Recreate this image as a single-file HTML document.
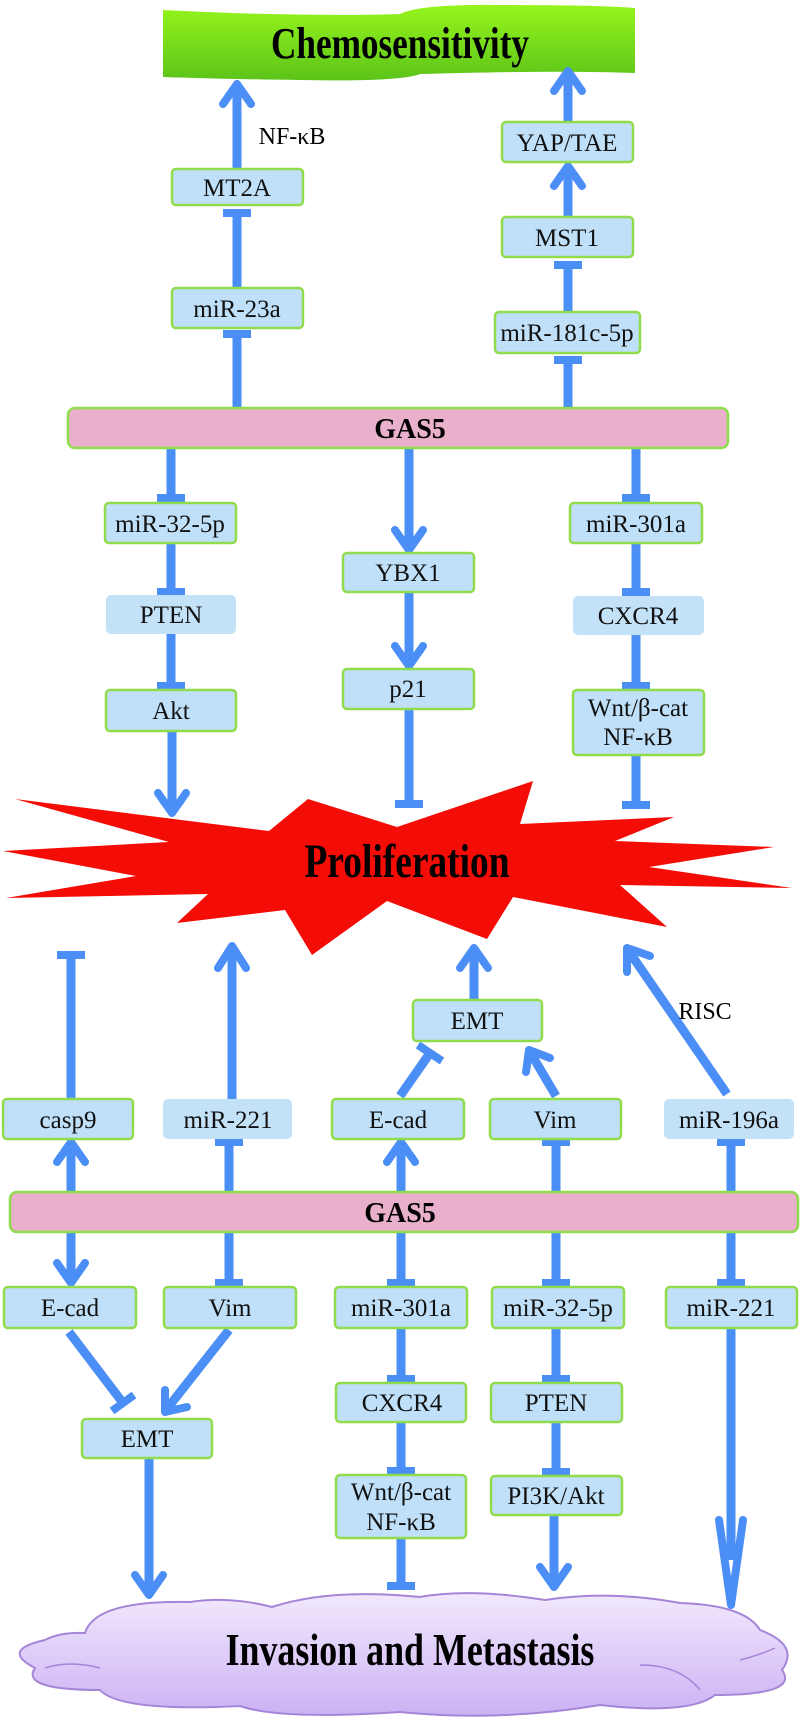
<!DOCTYPE html>
<html><head><meta charset="utf-8"><style>
html,body{margin:0;padding:0;background:#fff;}
svg{display:block;}
text{font-family:"Liberation Serif",serif;}
</style></head><body>
<svg width="800" height="1720" viewBox="0 0 800 1720" xmlns="http://www.w3.org/2000/svg">
<defs>
<linearGradient id="gg" x1="0" y1="0" x2="0" y2="1"><stop offset="0" stop-color="#96f51c"/><stop offset="1" stop-color="#5cc41a"/></linearGradient>
<linearGradient id="cg" x1="0" y1="0" x2="0" y2="1"><stop offset="0" stop-color="#f2e9fd"/><stop offset="1" stop-color="#cbb2f4"/></linearGradient>
</defs>
<path d="M163,10 Q300,17 400,14 Q420,4 500,5 Q600,5 635,8 L635,73 Q560,70 420,74 Q400,82 300,80 Q220,79 163,77 Z" fill="url(#gg)"/>
<text x="400" y="58" font-size="44" font-weight="bold" text-anchor="middle" transform="translate(400,0) scale(0.8,1) translate(-400,0)">Chemosensitivity</text>

<polygon fill="#f40c06" points="15,799 269,831 308,799 397,827 533,781 520,824 674,817 615,841 774,847 649,867 792,888 620,885 667,927 513,897 487,939 387,901 312,955 285,910 177,923 208,894 6,898 136,876 3,851 169,842"/>
<text x="407" y="877" font-size="48" font-weight="bold" text-anchor="middle" transform="translate(407,0) scale(0.78,1) translate(-407,0)">Proliferation</text>

<path d="M85,1633 Q95,1600 190,1602 Q230,1596 272,1607 Q330,1588 420,1597 Q470,1588 545,1600 Q610,1590 680,1603 Q745,1605 760,1630 Q800,1645 782,1670 Q800,1695 715,1695 Q690,1715 600,1705 Q500,1722 400,1712 Q280,1720 240,1706 Q120,1712 100,1690 Q20,1690 35,1668 Q0,1650 45,1640 Q60,1632 85,1633 Z" fill="url(#cg)" stroke="#a585d8" stroke-width="2"/>
<g fill="none" stroke="#a585d8" stroke-width="1.5">
<path d="M45,1668 Q70,1660 100,1668"/>
<path d="M640,1665 Q680,1665 700,1690"/>
<path d="M740,1660 Q760,1655 775,1648"/>
</g>
<text x="410" y="1665" font-size="46" font-weight="bold" text-anchor="middle" transform="translate(410,0) scale(0.78,1) translate(-410,0)">Invasion and Metastasis</text>

<g stroke="#4b8ef5" stroke-width="9" fill="none" stroke-linecap="butt">
<line x1="237" y1="169" x2="237" y2="84"/>
<line x1="237" y1="288" x2="237" y2="213"/>
<line x1="237" y1="408" x2="237" y2="334"/>
<line x1="568" y1="122" x2="568" y2="71"/>
<line x1="568" y1="217" x2="568" y2="166"/>
<line x1="568" y1="312" x2="568" y2="265"/>
<line x1="568" y1="408" x2="568" y2="360"/>
<line x1="171" y1="448" x2="171" y2="498"/>
<line x1="409" y1="448" x2="409" y2="548"/>
<line x1="636" y1="448" x2="636" y2="498"/>
<line x1="171" y1="543" x2="171" y2="592"/>
<line x1="636" y1="543" x2="636" y2="592"/>
<line x1="171" y1="634" x2="171" y2="686"/>
<line x1="636" y1="635" x2="636" y2="686"/>
<line x1="172" y1="731" x2="172" y2="811"/>
<line x1="409" y1="592" x2="409" y2="664"/>
<line x1="409" y1="709" x2="409" y2="803"/>
<line x1="636" y1="755" x2="636" y2="804"/>
<line x1="71" y1="1099" x2="71" y2="955"/>
<line x1="232" y1="1099" x2="232" y2="948"/>
<line x1="474" y1="1000" x2="474" y2="950"/>
<line x1="400" y1="1096" x2="430" y2="1053"/>
<line x1="556" y1="1096" x2="530" y2="1052"/>
<line x1="727" y1="1094" x2="628" y2="950"/>
<line x1="71" y1="1192" x2="71" y2="1144"/>
<line x1="229" y1="1192" x2="229" y2="1142"/>
<line x1="401" y1="1192" x2="401" y2="1144"/>
<line x1="556" y1="1192" x2="556" y2="1142"/>
<line x1="731" y1="1192" x2="731" y2="1142"/>
<line x1="71" y1="1232" x2="71" y2="1281"/>
<line x1="229" y1="1232" x2="229" y2="1283"/>
<line x1="401" y1="1232" x2="401" y2="1283"/>
<line x1="556" y1="1232" x2="556" y2="1283"/>
<line x1="731" y1="1232" x2="731" y2="1283"/>
<line x1="69" y1="1332" x2="123" y2="1403"/>
<line x1="229" y1="1330" x2="166" y2="1410"/>
<line x1="149" y1="1458" x2="149" y2="1593"/>
<line x1="401" y1="1328" x2="401" y2="1379"/>
<line x1="401" y1="1422" x2="401" y2="1471"/>
<line x1="401" y1="1538" x2="401" y2="1586"/>
<line x1="556" y1="1328" x2="556" y2="1379"/>
<line x1="556" y1="1422" x2="556" y2="1472"/>
<line x1="554" y1="1515" x2="554" y2="1583"/>
<line x1="731" y1="1328" x2="731" y2="1560"/>
</g>
<g stroke="#4b8ef5" stroke-width="8" fill="none" stroke-linecap="round" stroke-linejoin="round">
<polyline points="223,104 237,84 251,104"/>
<polyline points="554,91 568,71 582,91"/>
<polyline points="554,186 568,166 582,186"/>
<polyline points="395,530 409,550 423,530"/>
<polyline points="158,793 172,813 186,793"/>
<polyline points="395,646 409,666 423,646"/>
<polyline points="218,968 232,946 246,968"/>
<polyline points="460,968 474,948 488,968"/>
<polyline points="550,1058 529,1050 526,1072"/>
<polyline points="650,956 627,948 627,972"/>
<polyline points="57,1162 71,1142 85,1162"/>
<polyline points="387,1162 401,1142 415,1162"/>
<polyline points="57,1263 71,1283 85,1263"/>
<polyline points="187,1407 165,1412 165,1390"/>
<polyline points="135,1575 149,1595 163,1575"/>
<polyline points="540,1567 554,1587 568,1567"/>
<polyline points="719,1520 731,1605 743,1520"/>
</g>
<g fill="#4b8ef5">
<rect x="223" y="209" width="28" height="8"/>
<rect x="223" y="330" width="28" height="8"/>
<rect x="554" y="261" width="28" height="8"/>
<rect x="554" y="356" width="28" height="8"/>
<rect x="157" y="494" width="28" height="8"/>
<rect x="622" y="494" width="28" height="8"/>
<rect x="157" y="588" width="28" height="8"/>
<rect x="622" y="588" width="28" height="8"/>
<rect x="157" y="682" width="28" height="8"/>
<rect x="622" y="682" width="28" height="8"/>
<rect x="395" y="800" width="28" height="8"/>
<rect x="622" y="801" width="28" height="8"/>
<rect x="57" y="951" width="28" height="8"/>
<rect x="215" y="1138" width="28" height="8"/>
<rect x="542" y="1138" width="28" height="8"/>
<rect x="717" y="1138" width="28" height="8"/>
<rect x="215" y="1279" width="28" height="8"/>
<rect x="387" y="1279" width="28" height="8"/>
<rect x="542" y="1279" width="28" height="8"/>
<rect x="717" y="1279" width="28" height="8"/>
<rect x="387" y="1375" width="28" height="8"/>
<rect x="387" y="1467" width="28" height="8"/>
<rect x="387" y="1582" width="28" height="8"/>
<rect x="542" y="1375" width="28" height="8"/>
<rect x="542" y="1468" width="28" height="8"/>
</g>
<g stroke="#4b8ef5" stroke-width="8">
<line x1="418" y1="1045" x2="442" y2="1061"/>
<line x1="134" y1="1395" x2="112" y2="1411"/>
</g>

<g fill="#bfe0f8" stroke="#90dc4c" stroke-width="2.5">
<rect x="172" y="169" width="131" height="36" rx="4"/>
<rect x="172" y="288" width="131" height="40" rx="4"/>
<rect x="502" y="122" width="131" height="40" rx="4"/>
<rect x="502" y="217" width="131" height="40" rx="4"/>
<rect x="495" y="312" width="145" height="41" rx="4"/>
<rect x="105" y="503" width="131" height="40" rx="4"/>
<rect x="343" y="553" width="131" height="39" rx="4"/>
<rect x="570" y="503" width="132" height="40" rx="4"/>
<rect x="106" y="690" width="130" height="41" rx="4"/>
<rect x="343" y="669" width="131" height="40" rx="4"/>
<rect x="573" y="690" width="131" height="65" rx="4"/>
<rect x="3" y="1099" width="130" height="40" rx="4"/>
<rect x="413" y="1000" width="129" height="41" rx="4"/>
<rect x="332" y="1099" width="132" height="40" rx="4"/>
<rect x="490" y="1099" width="131" height="40" rx="4"/>
<rect x="4" y="1287" width="132" height="41" rx="4"/>
<rect x="164" y="1287" width="132" height="41" rx="4"/>
<rect x="335" y="1287" width="132" height="41" rx="4"/>
<rect x="492" y="1287" width="132" height="41" rx="4"/>
<rect x="666" y="1287" width="131" height="41" rx="4"/>
<rect x="82" y="1419" width="130" height="39" rx="4"/>
<rect x="336" y="1383" width="130" height="39" rx="4"/>
<rect x="491" y="1383" width="131" height="39" rx="4"/>
<rect x="336" y="1475" width="130" height="63" rx="4"/>
<rect x="491" y="1476" width="131" height="39" rx="4"/>
</g>
<g fill="#c3e2f8">
<rect x="106" y="595" width="130" height="39" rx="5"/>
<rect x="573" y="596" width="131" height="39" rx="5"/>
<rect x="163" y="1099" width="129" height="40" rx="5"/>
<rect x="664" y="1099" width="130" height="40" rx="5"/>
</g>
<g fill="#e8b0cb" stroke="#90dc4c" stroke-width="2.5">
<rect x="68" y="408" width="660" height="40" rx="7"/>
<rect x="10" y="1192" width="788" height="40" rx="7"/>
</g>

<g font-size="25" text-anchor="middle" fill="#111">
<text x="237" y="196">MT2A</text>
<text x="237" y="317">miR-23a</text>
<text x="567" y="151">YAP/TAE</text>
<text x="567" y="246">MST1</text>
<text x="567" y="341">miR-181c-5p</text>
<text x="170" y="532">miR-32-5p</text>
<text x="408" y="581">YBX1</text>
<text x="636" y="532">miR-301a</text>
<text x="171" y="623">PTEN</text>
<text x="638" y="624">CXCR4</text>
<text x="171" y="719">Akt</text>
<text x="408" y="697">p21</text>
<text x="638" y="716">Wnt/β-cat</text>
<text x="638" y="745">NF-κB</text>
<text x="68" y="1128">casp9</text>
<text x="228" y="1128">miR-221</text>
<text x="477" y="1029">EMT</text>
<text x="398" y="1128">E-cad</text>
<text x="555" y="1128">Vim</text>
<text x="729" y="1128">miR-196a</text>
<text x="70" y="1316">E-cad</text>
<text x="230" y="1316">Vim</text>
<text x="401" y="1316">miR-301a</text>
<text x="558" y="1316">miR-32-5p</text>
<text x="731" y="1316">miR-221</text>
<text x="147" y="1447">EMT</text>
<text x="402" y="1411">CXCR4</text>
<text x="556" y="1411">PTEN</text>
<text x="401" y="1500">Wnt/β-cat</text>
<text x="401" y="1530">NF-κB</text>
<text x="556" y="1504">PI3K/Akt</text>
</g>
<text x="292" y="144" font-size="24" text-anchor="middle">NF-κB</text>
<text x="705" y="1019" font-size="24" text-anchor="middle">RISC</text>
<g font-size="28" font-weight="bold" text-anchor="middle">
<text x="410" y="438">GAS5</text>
<text x="400" y="1222">GAS5</text>
</g>
</svg>
</body></html>
